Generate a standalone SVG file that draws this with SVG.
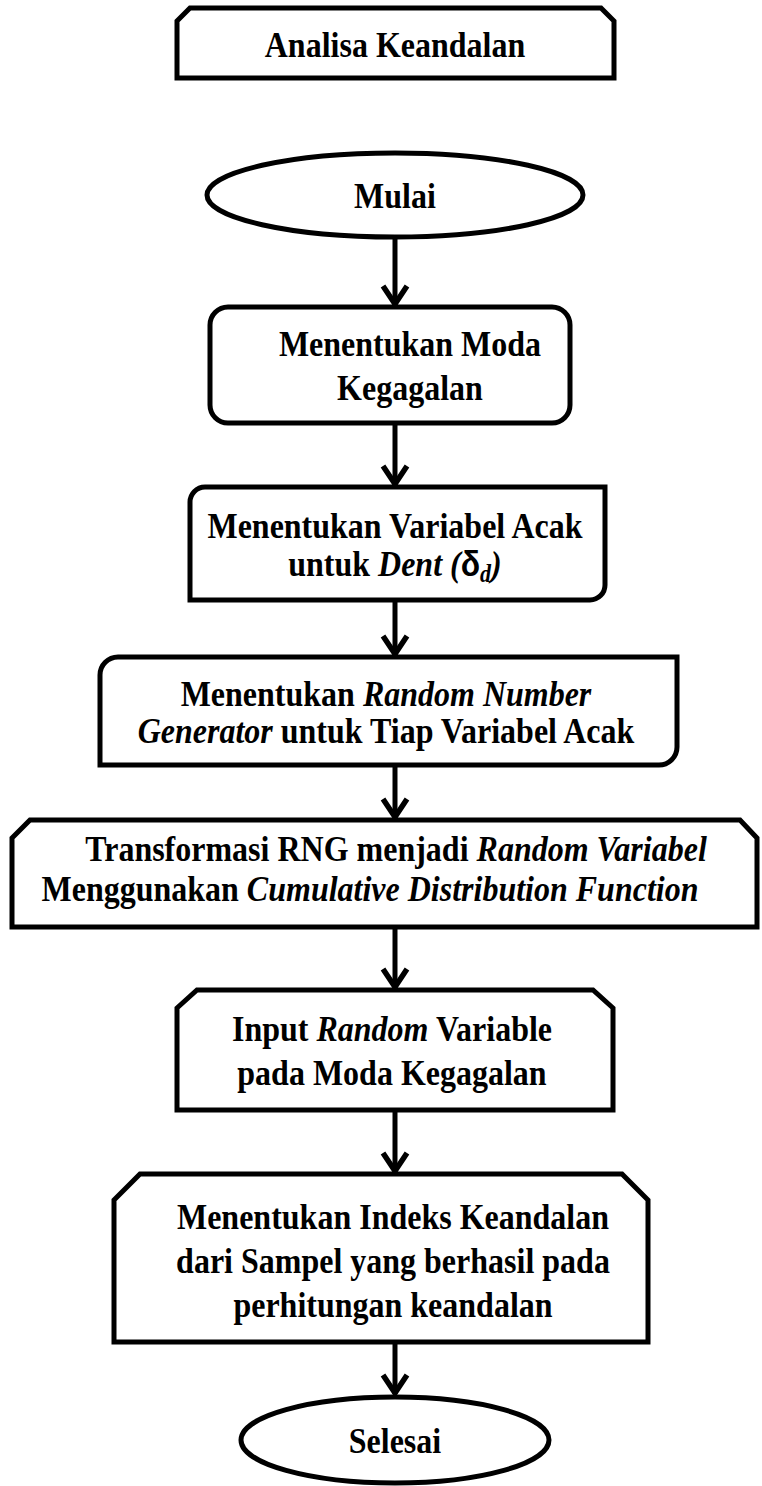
<svg xmlns="http://www.w3.org/2000/svg" width="762" height="1486" viewBox="0 0 762 1486">
<style>
.s{fill:#fff;stroke:#000;stroke-width:5;stroke-linejoin:miter}
.t{font-family:"Liberation Serif","Times New Roman",serif;font-weight:bold;font-size:32px;fill:#000;text-anchor:middle}
.i{font-style:italic}
.c{stroke:#000;stroke-width:5;fill:none}
</style>
<defs>
<marker id="ah" markerUnits="userSpaceOnUse" markerWidth="30" markerHeight="30" viewBox="0 0 30 30" refX="22" refY="15" orient="auto" overflow="visible">
<path d="M3,3 L21,15 L3,27" fill="none" stroke="#000" stroke-width="5.5"/>
</marker>
</defs>
<rect width="762" height="1486" fill="#fff"/>
<g id="connectors">
<line class="c" x1="395" y1="238" x2="395" y2="305" marker-end="url(#ah)"/>
<line class="c" x1="395" y1="423" x2="395" y2="485" marker-end="url(#ah)"/>
<line class="c" x1="395" y1="600" x2="395" y2="655" marker-end="url(#ah)"/>
<line class="c" x1="395" y1="765" x2="395" y2="818" marker-end="url(#ah)"/>
<line class="c" x1="395" y1="927" x2="395" y2="988" marker-end="url(#ah)"/>
<line class="c" x1="395" y1="1110" x2="395" y2="1172" marker-end="url(#ah)"/>
<line class="c" x1="395" y1="1342" x2="395" y2="1394" marker-end="url(#ah)"/>
</g>
<g id="n-analisa">
<path class="s" d="M190,8 H601 L614,21 V78 H177 V21 Z"/>
<text class="t" x="395" y="57" transform="matrix(1 0 0 1.12 0 -6.84)">Analisa Keandalan</text>
</g>
<g id="n-mulai">
<ellipse class="s" cx="395" cy="195" rx="188" ry="42"/>
<text class="t" x="395" y="208" transform="matrix(1 0 0 1.12 0 -24.96)">Mulai</text>
</g>
<g id="n-moda">
<rect class="s" x="210" y="307" width="360" height="116" rx="18"/>
<text class="t" x="410" y="356" transform="matrix(1 0 0 1.12 0 -42.72)">Menentukan Moda</text>
<text class="t" x="410" y="400" transform="matrix(1 0 0 1.12 0 -48)">Kegagalan</text>
</g>
<g id="n-variabel">
<path class="s" d="M205,487 H605 V585 A15,15 0 0 1 590,600 H190 V502 A15,15 0 0 1 205,487 Z"/>
<text class="t" x="395" y="538" transform="matrix(1 0 0 1.12 0 -64.56)">Menentukan Variabel Acak</text>
<text class="t" x="395" y="576" transform="matrix(1 0 0 1.12 0 -69.12)">untuk <tspan class="i">Dent (</tspan><tspan font-family="Liberation Sans,Arial,sans-serif" font-style="normal">δ</tspan><tspan class="i" font-size="22" dy="5">d</tspan><tspan class="i" dy="-5">)</tspan></text>
</g>
<g id="n-rng">
<path class="s" d="M118,657 H677 V747 A18,18 0 0 1 659,765 H100 V675 A18,18 0 0 1 118,657 Z"/>
<text class="t" x="386" y="706" transform="matrix(1 0 0 1.12 0 -84.72)">Menentukan <tspan class="i">Random Number</tspan></text>
<text class="t" x="386" y="743" transform="matrix(1 0 0 1.12 0 -89.16)"><tspan class="i">Generator</tspan> untuk Tiap Variabel Acak</text>
</g>
<g id="n-transformasi">
<path class="s" d="M30,820 H740 L757,838 V927 H12 V838 Z"/>
<text class="t" x="396" y="861" font-size="33" transform="matrix(1 0 0 1.12 0 -103.32)">Transformasi RNG menjadi <tspan class="i">Random Variabel</tspan></text>
<text class="t" x="370" y="901" font-size="33" transform="matrix(1 0 0 1.12 0 -108.12)">Menggunakan <tspan class="i">Cumulative Distribution Function</tspan></text>
</g>
<g id="n-input">
<path class="s" d="M197,990 H593 L613,1008 V1110 H177 V1008 Z"/>
<text class="t" x="392" y="1041" transform="matrix(1 0 0 1.12 0 -124.92)">Input <tspan class="i">Random</tspan> Variable</text>
<text class="t" x="392" y="1085" transform="matrix(1 0 0 1.12 0 -130.2)">pada Moda Kegagalan</text>
</g>
<g id="n-indeks">
<path class="s" d="M140,1174 H622 L648,1200 V1342 H114 V1200 Z"/>
<text class="t" x="393" y="1229" transform="matrix(1 0 0 1.12 0 -147.48)">Menentukan Indeks Keandalan</text>
<text class="t" x="393" y="1273" transform="matrix(1 0 0 1.12 0 -152.76)">dari Sampel yang berhasil pada</text>
<text class="t" x="393" y="1317" transform="matrix(1 0 0 1.12 0 -158.04)">perhitungan keandalan</text>
</g>
<g id="n-selesai">
<ellipse class="s" cx="395" cy="1440" rx="154" ry="43"/>
<text class="t" x="395" y="1453" transform="matrix(1 0 0 1.12 0 -174.36)">Selesai</text>
</g>
</svg>
